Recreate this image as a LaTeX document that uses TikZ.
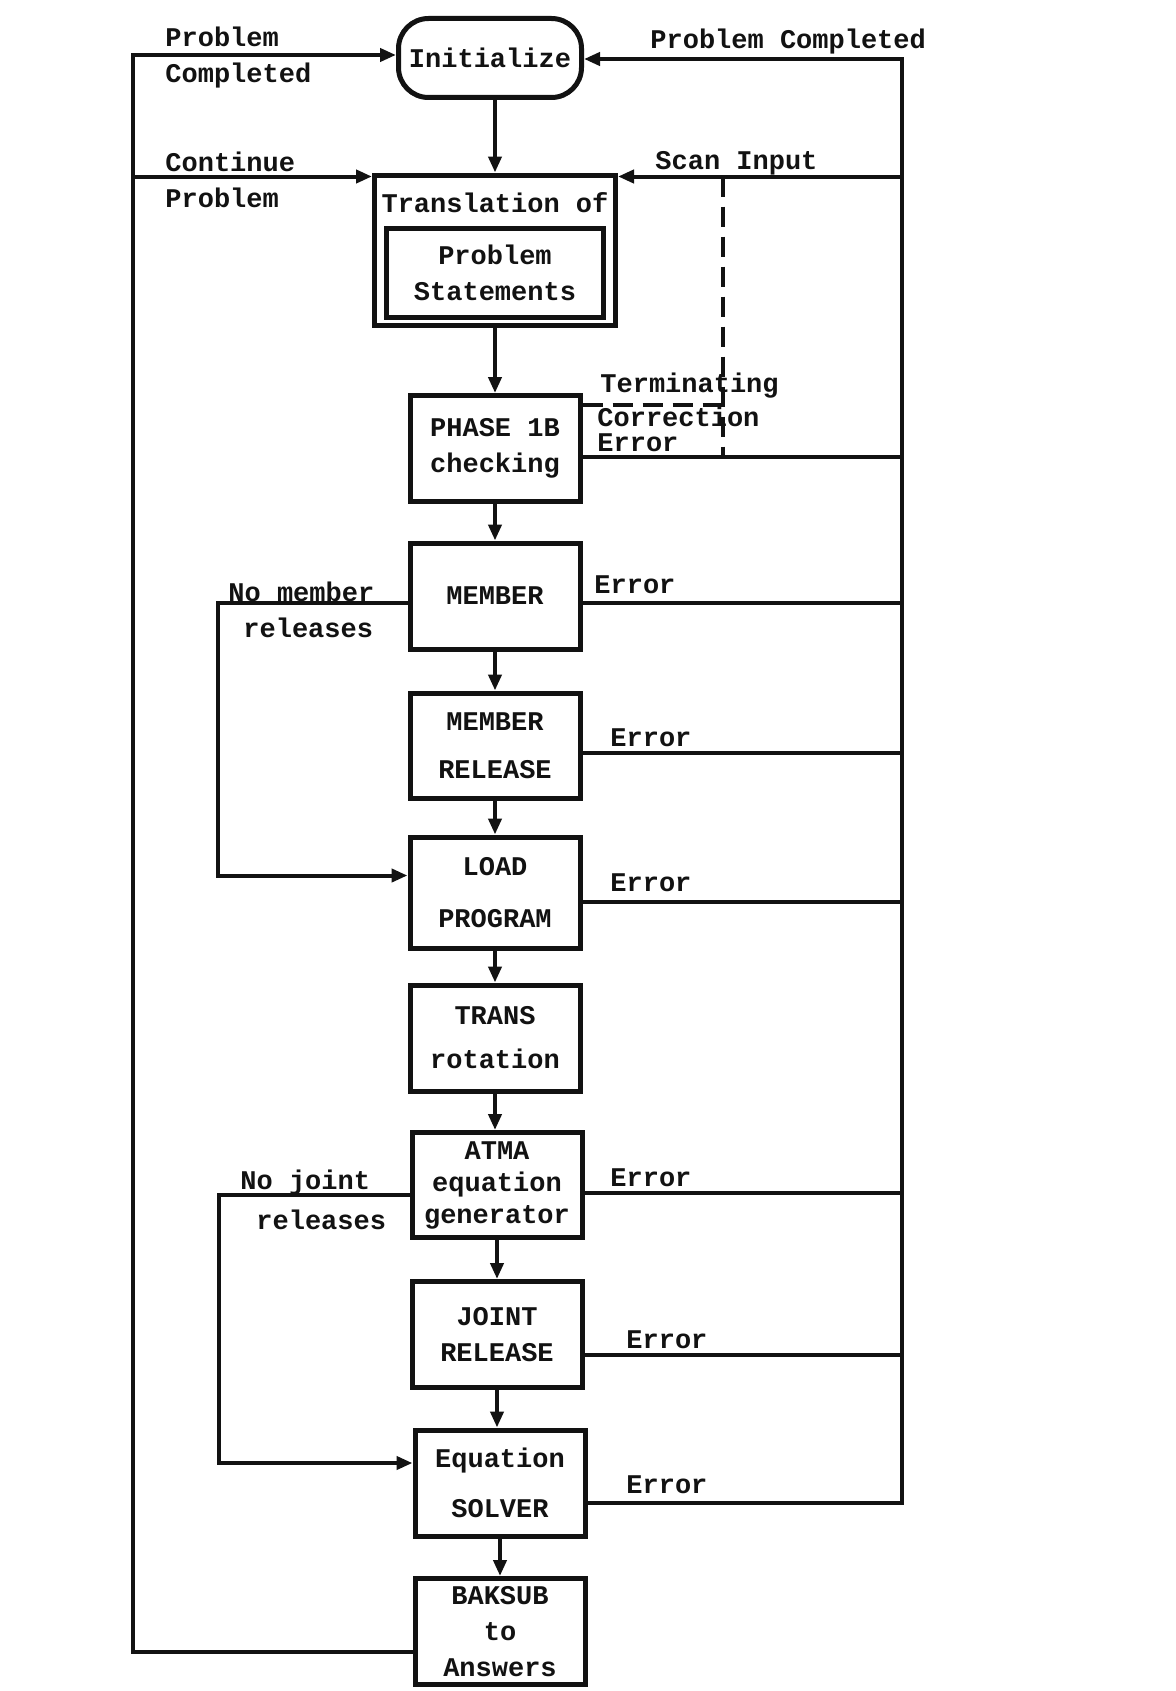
\documentclass[tikz,border=0pt]{standalone}
\usepackage{fontspec}
\setmonofont{Liberation Mono}
\usepackage{tikz}
\usetikzlibrary{arrows.meta,positioning,calc}
\definecolor{inkblack}{RGB}{18,18,18}
\tikzset{
  base/.style={font=\ttfamily\bfseries\fontsize{13.5pt}{18pt}\selectfont, text=inkblack, align=center, inner sep=0pt},
  blk/.style={base, rectangle, draw=inkblack, line width=2.5pt, minimum width=85pt, minimum height=53pt},
  startbox/.style={blk, rounded corners=15pt, minimum width=91.5pt, minimum height=39.5pt},
  lbl/.style={base, anchor=west, align=left},
  flow/.style={line width=2pt, draw=inkblack},
  arr/.style={flow, -{Triangle[length=8pt,width=6.5pt]}},
  dashflow/.style={flow, dash pattern=on 10pt off 5pt},
}

\begin{document}
\begin{tikzpicture}[x=0.5pt,y=-0.5pt]
  \fill[white] (0,0) rectangle (1175,1691);
  \useasboundingbox (0,0) rectangle (1175,1691);
  \coordinate (lrail) at (133,55);
  \coordinate (rrail) at (902,59);
  % blocks
  \node[startbox] (init) at (490,58) {Initialize};
  \node[blk, minimum width=120.5pt, minimum height=75pt] (trans) at (495,250) {};
  \node[base] (transttl) at (495,203) {Translation of};
  \node[blk, minimum width=108.5pt, minimum height=44.5pt] (stmts) at (495,272.5) {Problem\\Statements};
  \node[blk] (phase) at (495,448.5) {PHASE 1B\\checking};
  \node[blk] (member) at (495,596) {MEMBER};
  \node[blk, minimum height=52.5pt] (mrel) at (495,745.5) {MEMBER\\[6pt]RELEASE};
  \node[blk, minimum height=55.5pt] (load) at (495,892.5) {LOAD\\[8pt]PROGRAM};
  \node[blk] (rot) at (495,1038) {TRANS\\[4pt]rotation};
  \node[blk, minimum height=52.5pt] (atma) at (497,1185) {ATMA\\[-2pt]equation\\[-2pt]generator};
  \node[blk] (joint) at (497,1334.5) {JOINT\\RELEASE};
  \node[blk] (solver) at (500,1483) {Equation\\[7pt]SOLVER};
  \node[blk] (bak) at (500,1631.5) {BAKSUB\\to\\Answers};
  % main line
  \draw[arr] (init.south -| trans.north) -- (trans.north);
  \foreach \a/\b in {trans/phase,phase/member,member/mrel,mrel/load,load/rot,rot/atma,atma/joint,joint/solver,solver/bak}{
    \draw[arr] (\a.south) -- (\a.south |- \b.north);
  }
  % problem completed / continue
  \draw[arr] ($(bak.west)+(0,20)$) -| (lrail) -- (lrail -| init.west);
  \draw[arr] ($(lrail |- trans.north)+(0,4)$) -- ($(trans.north west)+(0,4)$);
  % errors, scan input
  \draw[arr] ($(solver.east)+(0,20)$) -| (rrail) -- (rrail -| init.east);
  \draw[arr] ($(rrail |- trans.north)+(0,4)$) -- ($(trans.north east)+(0,4)$);
  \foreach \n/\dy in {phase/8,member/7,mrel/7,load/9,atma/8,joint/20}{
    \draw[flow] ($(\n.east)+(0,\dy)$) -- ($(rrail |- \n.east)+(0,\dy)$);
  }
  % terminating error
  \coordinate (tcorner) at (723,405);
  \draw[dashflow] (phase.east |- tcorner) -- (tcorner);
  \draw[dashflow] ($(tcorner |- trans.north)+(0,4)$) -- ($(tcorner |- phase.east)+(0,8)$);
  % releases
  \draw[arr] ($(member.west)+(0,7)$) -- ++(-190,0) |- ($(load.west)+(0,-17)$);
  \draw[arr] ($(atma.west)+(0,10)$) -- ++(-191,0) |- ($(solver.west)+(0,-20)$);
  % labels
  \node[lbl] (pcl) at (165,58) {Problem\\Completed};
  \node[lbl] (pcr) at (650,42) {Problem Completed};
  \node[lbl] (cont) at (165,180) {Continue\\Problem};
  \node[lbl] (scan) at (655,163) {Scan Input};
  \node[lbl] (termlbl) at (600,386) {Terminating};
  \node[lbl] (corrlbl) at (597,417) {Correction};
  \node[lbl] (correrr) at (597,443) {Error};
  \node[lbl] (memerr) at (594,585) {Error};
  \node[lbl] (mrelerr) at (610,738) {Error};
  \node[lbl] (loaderr) at (610,883) {Error};
  \node[lbl] (atmaerr) at (610,1178) {Error};
  \node[lbl] (jnterr) at (626,1340) {Error};
  \node[lbl] (solverr) at (626,1485) {Error};
  \node[lbl] (nomem) at (228,592) {No member};
  \node[lbl] (nomemrel) at (243,628) {releases};
  \node[lbl] (nojnt) at (240,1183) {No joint};
  \node[lbl] (nojntrel) at (256,1220) {releases};
\end{tikzpicture}
\end{document}
